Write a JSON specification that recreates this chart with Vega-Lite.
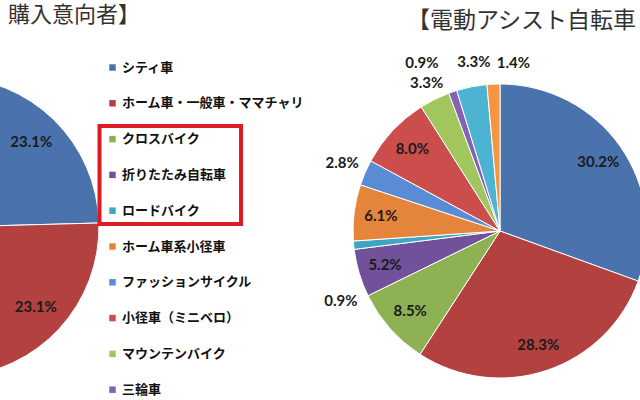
{
  "$schema": "https://vega.github.io/schema/vega-lite/v6.json",
  "width": 640,
  "height": 400,
  "autosize": {"type": "none"},
  "padding": 0,
  "background": "white",
  "datasets": {
    "intent": [
      {"cat": "シティ車", "ord": 1, "v": 0.231},
      {"cat": "ホーム車・一般車・ママチャリ", "ord": 2, "v": 0.231},
      {"cat": "クロスバイク", "ord": 3, "v": 0.098},
      {"cat": "折りたたみ自転車", "ord": 4, "v": 0.064},
      {"cat": "ロードバイク", "ord": 5, "v": 0.046},
      {"cat": "ホーム車系小径車", "ord": 6, "v": 0.052},
      {"cat": "ファッションサイクル", "ord": 7, "v": 0.035},
      {"cat": "小径車（ミニベロ）", "ord": 8, "v": 0.075},
      {"cat": "マウンテンバイク", "ord": 9, "v": 0.048},
      {"cat": "三輪車", "ord": 10, "v": 0.012},
      {"cat": "子供車", "ord": 11, "v": 0.018},
      {"cat": "その他", "ord": 12, "v": 0.03}
    ],
    "assist": [
      {"cat": "シティ車", "ord": 1, "v": 0.302},
      {"cat": "ホーム車・一般車・ママチャリ", "ord": 2, "v": 0.283},
      {"cat": "クロスバイク", "ord": 3, "v": 0.085},
      {"cat": "折りたたみ自転車", "ord": 4, "v": 0.052},
      {"cat": "ロードバイク", "ord": 5, "v": 0.009},
      {"cat": "ホーム車系小径車", "ord": 6, "v": 0.061},
      {"cat": "ファッションサイクル", "ord": 7, "v": 0.028},
      {"cat": "小径車（ミニベロ）", "ord": 8, "v": 0.08},
      {"cat": "マウンテンバイク", "ord": 9, "v": 0.033},
      {"cat": "三輪車", "ord": 10, "v": 0.009},
      {"cat": "子供車", "ord": 11, "v": 0.033},
      {"cat": "その他", "ord": 12, "v": 0.014}
    ],
    "one": [{}]
  },
  "layer": [
    {
      "data": {"name": "intent"},
      "encoding": {
        "x": {"datum": -51, "type": "quantitative", "scale": {"domain": [0, 640], "nice": false, "zero": false}, "axis": null},
        "y": {"datum": 227, "type": "quantitative", "scale": {"domain": [0, 400], "nice": false, "zero": false, "reverse": true}, "axis": null},
        "theta": {"field": "v", "type": "quantitative", "stack": true},
        "order": {"field": "ord", "type": "quantitative"}
      },
      "layer": [
        {
          "mark": {"type": "arc", "outerRadius": 150, "stroke": "white", "strokeWidth": 1},
          "encoding": {
            "color": {
              "field": "cat",
              "type": "nominal",
              "scale": {
                "domain": ["シティ車", "ホーム車・一般車・ママチャリ", "クロスバイク", "折りたたみ自転車", "ロードバイク", "ホーム車系小径車", "ファッションサイクル", "小径車（ミニベロ）", "マウンテンバイク", "三輪車", "子供車", "その他"],
                "range": ["#4A72AC", "#B2413F", "#8DB153", "#70519A", "#3EA5C2", "#E5853C", "#5A8BD5", "#CB4D4C", "#A2C65E", "#8660B3", "#4DB3D2", "#F69540"]
              },
              "legend": {
                "orient": "none",
                "legendX": 106,
                "legendY": 61,
                "title": null,
                "padding": 0,
                "symbolType": "square",
                "symbolSize": 42,
                "symbolStrokeWidth": 0,
                "labelFont": "Noto Sans CJK JP",
                "labelFontSize": 13,
                "labelFontWeight": "bold",
                "labelColor": "#111111",
                "labelOffset": 3,
                "labelLimit": 300,
                "rowPadding": 21.8
              }
            }
          }
        },
        {
          "mark": {"type": "text", "radius": 118, "font": "Lato", "fontWeight": "bold", "fontSize": 15, "fill": "#1a1a1a"},
          "encoding": {
            "detail": {"field": "cat"},
            "text": {"condition": {"test": "datum.v >= 0.2", "field": "v", "type": "quantitative", "format": ".1%"}, "value": ""}
          }
        }
      ]
    },
    {
      "data": {"name": "assist"},
      "encoding": {
        "x": {"datum": 500, "type": "quantitative", "scale": {"domain": [0, 640], "nice": false, "zero": false}, "axis": null},
        "y": {"datum": 231, "type": "quantitative", "scale": {"domain": [0, 400], "nice": false, "zero": false, "reverse": true}, "axis": null},
        "theta": {"field": "v", "type": "quantitative", "stack": true},
        "order": {"field": "ord", "type": "quantitative"}
      },
      "layer": [
        {
          "mark": {"type": "arc", "outerRadius": 147, "stroke": "white", "strokeWidth": 1},
          "encoding": {"color": {"field": "cat", "type": "nominal"}}
        },
        {
          "mark": {"type": "text", "radius": 120, "font": "Lato", "fontWeight": "bold", "fontSize": 15, "fill": "#1a1a1a"},
          "encoding": {
            "detail": {"field": "cat"},
            "text": {"condition": {"test": "datum.v >= 0.05", "field": "v", "type": "quantitative", "format": ".1%"}, "value": ""}
          }
        },
        {
          "mark": {"type": "text", "radius": 172, "font": "Lato", "fontWeight": "bold", "fontSize": 15, "fill": "#1a1a1a"},
          "encoding": {
            "detail": {"field": "cat"},
            "text": {"condition": {"test": "datum.cat == 'ファッションサイクル'", "field": "v", "type": "quantitative", "format": ".1%"}, "value": ""}
          }
        },
        {
          "mark": {"type": "text", "radius": 172, "dx": 7, "font": "Lato", "fontWeight": "bold", "fontSize": 15, "fill": "#1a1a1a"},
          "encoding": {
            "detail": {"field": "cat"},
            "text": {"condition": {"test": "datum.cat == '子供車'", "field": "v", "type": "quantitative", "format": ".1%"}, "value": ""}
          }
        },
        {
          "mark": {"type": "text", "radius": 165, "font": "Lato", "fontWeight": "bold", "fontSize": 15, "fill": "#1a1a1a"},
          "encoding": {
            "detail": {"field": "cat"},
            "text": {"condition": {"test": "datum.cat == 'マウンテンバイク'", "field": "v", "type": "quantitative", "format": ".1%"}, "value": ""}
          }
        },
        {
          "mark": {"type": "text", "radius": 190, "dx": -17, "dy": 12, "font": "Lato", "fontWeight": "bold", "fontSize": 15, "fill": "#1a1a1a"},
          "encoding": {
            "detail": {"field": "cat"},
            "text": {"condition": {"test": "datum.cat == '三輪車'", "field": "v", "type": "quantitative", "format": ".1%"}, "value": ""}
          }
        },
        {
          "mark": {"type": "text", "radius": 172, "dx": 21, "dy": 4, "font": "Lato", "fontWeight": "bold", "fontSize": 15, "fill": "#1a1a1a"},
          "encoding": {
            "detail": {"field": "cat"},
            "text": {"condition": {"test": "datum.cat == 'その他'", "field": "v", "type": "quantitative", "format": ".1%"}, "value": ""}
          }
        },
        {
          "mark": {"type": "text", "radius": 172, "dx": 12, "dy": 53, "font": "Lato", "fontWeight": "bold", "fontSize": 15, "fill": "#1a1a1a"},
          "encoding": {
            "detail": {"field": "cat"},
            "text": {"condition": {"test": "datum.cat == 'ロードバイク'", "field": "v", "type": "quantitative", "format": ".1%"}, "value": ""}
          }
        }
      ]
    },
    {
      "data": {"name": "one"},
      "mark": {"type": "rect", "fill": "transparent", "stroke": "#DD1C24", "strokeWidth": 4},
      "encoding": {
        "x": {"datum": 99.5, "type": "quantitative", "scale": {"domain": [0, 640], "nice": false, "zero": false}, "axis": null},
        "x2": {"datum": 241},
        "y": {"datum": 126, "type": "quantitative", "scale": {"domain": [0, 400], "nice": false, "zero": false, "reverse": true}, "axis": null},
        "y2": {"datum": 224}
      }
    },
    {
      "data": {"name": "one"},
      "mark": {"type": "text", "align": "left", "baseline": "middle", "font": "Noto Sans CJK JP", "fontSize": 22, "fill": "#333333"},
      "encoding": {
        "x": {"datum": 8, "type": "quantitative", "scale": {"domain": [0, 640], "nice": false, "zero": false}, "axis": null},
        "y": {"datum": 15, "type": "quantitative", "scale": {"domain": [0, 400], "nice": false, "zero": false, "reverse": true}, "axis": null},
        "text": {"value": "購入意向者】"}
      }
    },
    {
      "data": {"name": "one"},
      "mark": {"type": "text", "align": "left", "baseline": "middle", "font": "Noto Sans CJK JP", "fontSize": 23, "fill": "#333333"},
      "encoding": {
        "x": {"datum": 407, "type": "quantitative", "scale": {"domain": [0, 640], "nice": false, "zero": false}, "axis": null},
        "y": {"datum": 21, "type": "quantitative", "scale": {"domain": [0, 400], "nice": false, "zero": false, "reverse": true}, "axis": null},
        "text": {"value": "【電動アシスト自転車"}
      }
    }
  ],
  "resolve": {"scale": {"theta": "independent"}},
  "config": {"view": {"stroke": null}}
}
